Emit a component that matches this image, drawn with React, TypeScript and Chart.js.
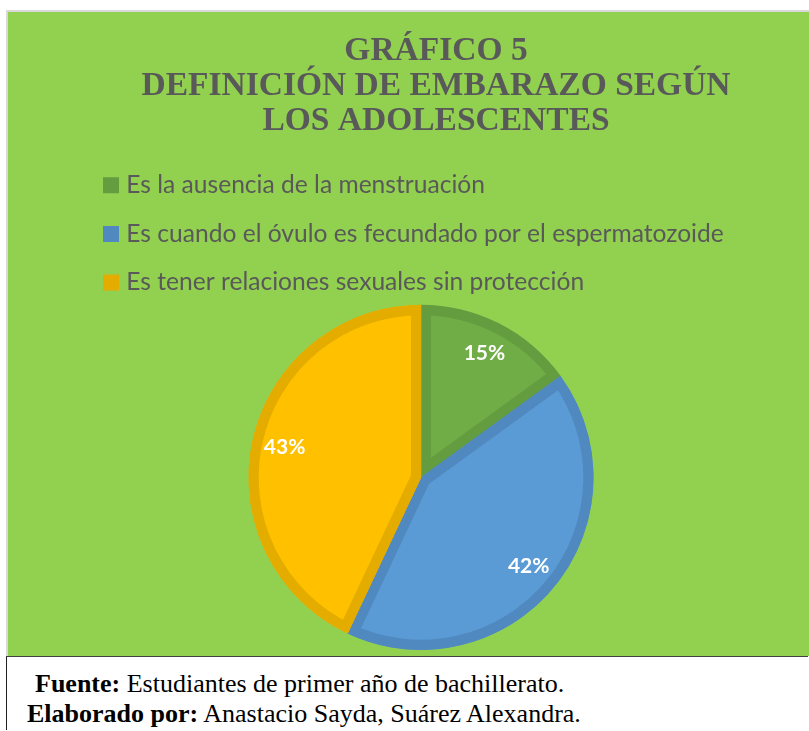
import React, { useEffect, useRef } from 'react';
import { Chart, registerables } from 'chart.js';

Chart.register(...registerables);

const titleLines = ['GRÁFICO 5', 'DEFINICIÓN DE EMBARAZO SEGÚN', 'LOS ADOLESCENTES'];
const categories = [
  'Es la ausencia de la menstruación',
  'Es cuando el óvulo es fecundado por el espermatozoide',
  'Es tener relaciones sexuales sin protección',
];
const percentages = [15, 42, 43];
const fillColors = ['#70AD47', '#5B9BD5', '#FFC000'];
const borderColors = ['#649C40', '#5089C0', '#E5AC00'];

const pieLabels = {
  id: 'pieLabels',
  afterDatasetsDraw(chart: any) {
    const ctx = chart.ctx;
    const meta = chart.getDatasetMeta(0);
    ctx.save();
    ctx.font = 'bold 21px Lato';
    ctx.fillStyle = '#FFFFFF';
    ctx.textAlign = 'center';
    ctx.textBaseline = 'middle';
    meta.data.forEach((arc: any, i: number) => {
      const p = arc.getProps(['x', 'y', 'startAngle', 'endAngle', 'outerRadius'], true);
      const mid = (p.startAngle + p.endAngle) / 2;
      const r = p.outerRadius * 0.81;
      ctx.fillText(percentages[i] + '%', p.x + Math.cos(mid) * r, p.y + Math.sin(mid) * r);
    });
    ctx.restore();
  },
};

const titleShift = {
  id: 'titleShift',
  afterLayout(chart: any) {
    const t = chart.titleBlock;
    if (t) {
      t.left += 15;
      t.right += 15;
    }
  },
};

export default function App() {
  const ref = useRef<HTMLCanvasElement>(null);

  useEffect(() => {
    if (!ref.current) return;
    const chart = new Chart(ref.current, {
      type: 'pie',
      data: {
        labels: categories,
        datasets: [
          {
            data: percentages,
            backgroundColor: fillColors,
            borderColor: borderColors,
            borderWidth: 10,
            borderAlign: 'inner',
            hoverOffset: 0,
          } as any,
        ],
      },
      options: {
        responsive: false,
        animation: false,
        layout: { padding: { left: 76, right: 51, top: 0, bottom: 6 } },
        plugins: {
          title: {
            display: true,
            text: titleLines,
            color: '#595959',
            font: { family: 'Liberation Serif', size: 33.5, weight: 'bold', lineHeight: 35 / 33.5 },
            padding: { top: 22, bottom: 10 },
          },
          legend: {
            position: 'top',
            align: 'start',
            labels: {
              color: '#595959',
              font: { family: 'Lato', size: 24.6 },
              usePointStyle: true,
              pointStyle: 'rect',
              boxWidth: 6,
              boxHeight: 16,
              padding: 24,
              generateLabels: () =>
                categories.map((text, i) => ({
                  text,
                  fillStyle: borderColors[i],
                  strokeStyle: borderColors[i],
                  lineWidth: 0,
                  pointStyle: 'rect',
                  hidden: false,
                  index: i,
                  fontColor: '#595959',
                })),
            },
          },
          tooltip: { enabled: false },
        },
      } as any,
      plugins: [pieLabels, titleShift],
    });
    return () => chart.destroy();
  }, []);

  return (
    <div>
      <div
        style={{
          position: 'absolute',
          left: 6,
          top: 10,
          width: 801,
          height: 644,
          borderTop: '2px solid #d9d9d9',
          borderLeft: '2px solid #d9d9d9',
          background: '#92D050',
        }}
      >
        <canvas ref={ref} width={801} height={644} style={{ display: 'block' }} />
      </div>
      <div
        style={{
          position: 'absolute',
          left: 6,
          top: 656,
          width: 802,
          height: 74,
          borderTop: '1px solid #404040',
          borderLeft: '1px solid #222222',
          background: '#ffffff',
          fontFamily: '"Liberation Serif", serif',
          fontSize: 26,
          lineHeight: '30px',
          color: '#000000',
          paddingTop: 12,
          boxSizing: 'border-box',
          overflow: 'hidden',
          whiteSpace: 'nowrap',
        }}
      >
        <div style={{ marginLeft: 28 }}>
          <b>Fuente:</b> Estudiantes de primer año de bachillerato.
        </div>
        <div style={{ marginLeft: 20 }}>
          <b>Elaborado por:</b> Anastacio Sayda, Suárez Alexandra.
        </div>
      </div>
    </div>
  );
}
